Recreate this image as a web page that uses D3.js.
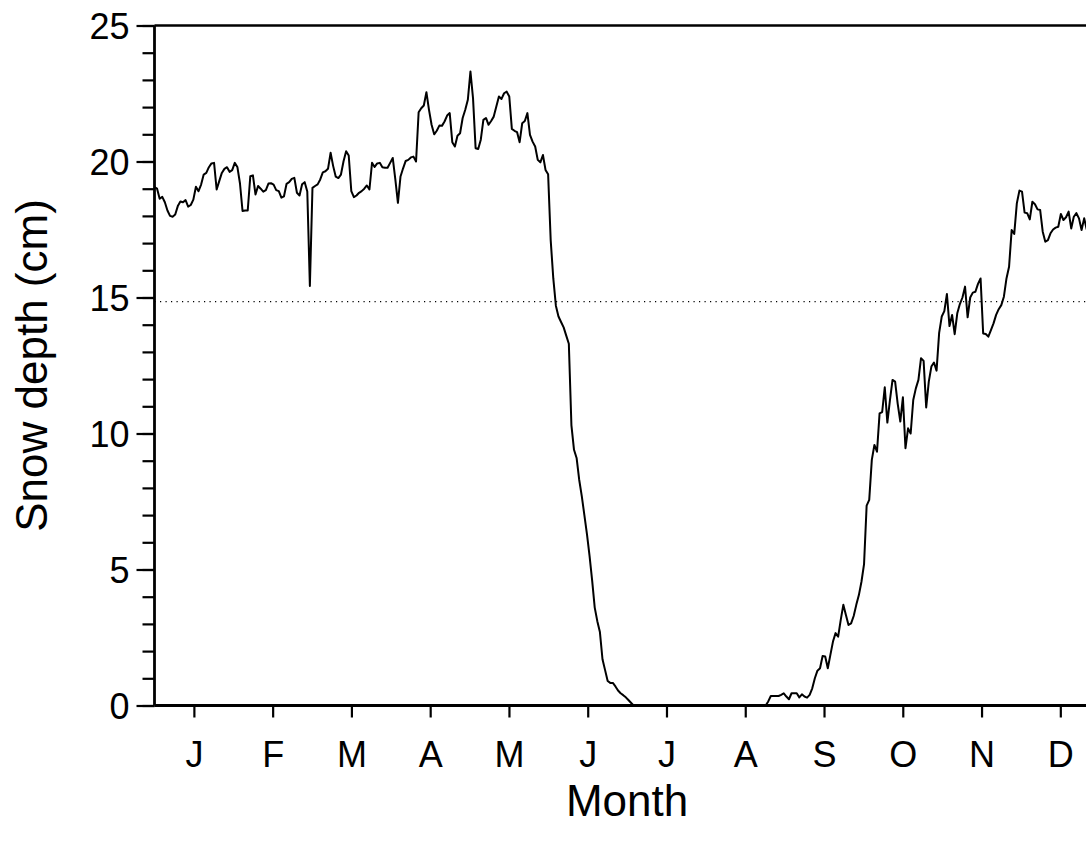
<!DOCTYPE html>
<html>
<head>
<meta charset="utf-8">
<script src="https://cdn.jsdelivr.net/npm/d3@7"></script>
<style>
  html, body { margin: 0; padding: 0; background: #fff; }
  svg { display: block; }
  text { font-family: "Liberation Sans", Arial, Helvetica, sans-serif; fill: #000; }
</style>
</head>
<body>
<svg id="chart" width="1086" height="844"></svg>
<script>
// Month initials shown under the axis (one per month, placed mid-month)
const monthLabels = ["J", "F", "M", "A", "M", "J", "J", "A", "S", "O", "N", "D"];

// Y axis ticks (cm)
const yMajorTicks = [0, 5, 10, 15, 20, 25];
const yMinorTicks = d3.range(0, 26, 1);

// Reference level drawn as a dotted horizontal line (cm)
const referenceDepth = [14.85];

// Daily snow depth (cm), day 0 = 1 January
const depthJanMar = [
  19.06, 19.00, 18.63, 18.70, 18.50, 18.20, 18.00, 17.97, 18.05, 18.36,
  18.53, 18.50, 18.58, 18.34, 18.40, 18.60, 19.07, 18.91, 19.15, 19.52,
  19.58, 19.79, 19.93, 19.95, 18.97, 19.28, 19.58, 19.73, 19.79, 19.62,
  19.68, 19.95, 19.80, 19.20, 18.18, 18.20, 18.20, 19.46, 19.49, 18.79,
  19.10, 19.00, 18.89, 18.95, 19.19, 19.20, 19.15, 18.95, 18.91, 18.67,
  18.72, 19.18, 19.24, 19.36, 19.40, 18.85, 18.75, 19.16, 19.24, 18.90,
  15.42, 19.03, 19.10, 19.16, 19.34, 19.60, 19.64, 19.73, 20.32, 19.83,
  19.44, 19.39, 19.52, 20.01, 20.38, 20.22, 18.91, 18.69, 18.75, 18.85,
  18.91, 19.00, 19.12, 18.97, 19.95, 19.80, 19.93, 19.95, 19.79, 19.77,
  19.77, 19.95, 20.13, 19.34, 18.48
];
const depthAprMay = [
  19.45, 19.75, 20.02, 20.06, 20.15, 20.18, 20.00, 21.81, 21.96, 22.06,
  22.55, 21.90, 21.35, 21.00, 21.13, 21.32, 21.31, 21.47, 21.69, 21.78,
  20.71, 20.55, 20.95, 21.04, 21.60, 21.90, 22.27, 23.31, 22.33, 20.49,
  20.46, 20.80, 21.53, 21.60, 21.35, 21.49, 21.65, 22.02, 22.39, 22.30,
  22.51, 22.57, 22.39, 21.20, 21.13, 21.08, 20.71, 21.41, 21.49, 21.78,
  20.98, 20.73, 20.55, 20.06, 19.97, 20.24, 19.69, 19.53
];
const depthMelt = [
  17.10, 15.70, 14.70, 14.30, 14.10, 13.90, 13.60, 13.30, 10.30, 9.40,
  9.10, 8.30, 7.70, 7.00, 6.30, 5.50, 4.60, 3.60, 3.10, 2.70,
  1.70, 1.30, 0.90, 0.83, 0.83, 0.70, 0.55, 0.45, 0.38, 0.30,
  0.20, 0.10, 0.00
];
const depthSnowFree = [
  0, 0, 0, 0, 0, 0, 0, 0, 0, 0,
  0, 0, 0, 0, 0, 0, 0, 0, 0, 0,
  0, 0, 0, 0, 0, 0, 0, 0, 0, 0,
  0, 0, 0, 0, 0, 0, 0, 0, 0, 0,
  0, 0, 0, 0, 0, 0, 0, 0, 0, 0,
  0
];
const depthAugOct = [
  0.15, 0.35, 0.35, 0.35, 0.35, 0.39, 0.45, 0.33, 0.23, 0.45,
  0.45, 0.45, 0.30, 0.41, 0.33, 0.29, 0.39, 0.63, 1.00, 1.28,
  1.37, 1.82, 1.80, 1.37, 1.86, 2.35, 2.66, 2.53, 3.15, 3.70,
  3.33, 2.96, 3.02, 3.29, 3.70, 4.06, 4.55, 5.20, 7.35, 7.56,
  9.03, 9.58, 9.33, 10.74, 10.79, 11.70, 10.40, 11.23, 11.97, 11.91,
  11.09, 10.44, 11.33, 9.46, 10.19, 10.00, 11.23, 11.66, 11.97, 12.77,
  12.67, 10.96, 11.91, 12.46, 12.61, 12.31, 13.70
];
const depthNovDec = [
  14.30, 14.50, 15.13, 13.95, 14.36, 13.65, 14.42, 14.76, 15.00, 15.40,
  14.27, 15.00, 15.18, 15.21, 15.50, 15.70, 13.68, 13.66, 13.56, 13.80,
  14.05, 14.36, 14.57, 14.72, 15.03, 15.70, 16.13, 17.48, 17.34, 18.46,
  18.93, 18.89, 18.12, 18.10, 17.87, 18.52, 18.43, 18.24, 18.22, 17.42,
  17.05, 17.11, 17.36, 17.50, 17.57, 17.60, 18.07, 17.85, 17.95, 18.16,
  17.54, 17.97, 18.10, 17.91, 17.48, 17.91, 17.50
];

const depth = [].concat(depthJanMar, depthAprMay, depthMelt, depthSnowFree, depthAugOct, depthNovDec);
const daysInYear = 365;

const svg = d3.select("#chart");

const plot = { left: 154.5, right: 1099.7, top: 25.5, bottom: 705.5 };

const x = d3.scaleLinear().domain([0, daysInYear]).range([plot.left, plot.right]);
const y = d3.scaleLinear().domain([0, 25]).range([plot.bottom, plot.top]);
const monthX = d3.scaleLinear().domain([0, 12]).range([plot.left, plot.right]);

// Dotted reference line
svg.selectAll("line.ref")
  .data(referenceDepth)
  .join("line")
  .attr("class", "ref")
  .attr("x1", plot.left).attr("x2", plot.right)
  .attr("y1", d => y(d)).attr("y2", d => y(d))
  .attr("stroke", "#000")
  .attr("stroke-width", 1.2)
  .attr("stroke-dasharray", "1.2,4.3");

// Snow depth series
const line = d3.line()
  .x((d, i) => x(i))
  .y(d => y(d));

svg.append("path")
  .datum(depth)
  .attr("fill", "none")
  .attr("stroke", "#000")
  .attr("stroke-width", 2)
  .attr("stroke-linejoin", "round")
  .attr("d", line);

// Frame: top and right edges
svg.append("line")
  .attr("x1", plot.left).attr("x2", plot.right)
  .attr("y1", plot.top).attr("y2", plot.top)
  .attr("stroke", "#000").attr("stroke-width", 2.4);
svg.append("line")
  .attr("x1", plot.right).attr("x2", plot.right)
  .attr("y1", plot.top).attr("y2", plot.bottom)
  .attr("stroke", "#000").attr("stroke-width", 2.4);

// Y axis: minor ticks every 1 cm, labelled majors every 5 cm
const yAxisMinor = d3.axisLeft(y).tickValues(yMinorTicks).tickSize(12).tickFormat("");
const yAxisMajor = d3.axisLeft(y).tickValues(yMajorTicks).tickSize(18).tickPadding(7).tickFormat(d3.format("d"));

const gMinor = svg.append("g").attr("transform", `translate(${plot.left},0)`).call(yAxisMinor);
gMinor.select(".domain").remove();
gMinor.selectAll(".tick line").attr("stroke", "#000").attr("stroke-width", 2.2);

const gY = svg.append("g").attr("transform", `translate(${plot.left},0)`).call(yAxisMajor);
gY.select(".domain").attr("stroke", "#000").attr("stroke-width", 2.8).attr("d", `M0,${plot.top}V${plot.bottom}`);
gY.selectAll(".tick line").attr("stroke", "#000").attr("stroke-width", 2.2);
gY.selectAll(".tick text")
  .attr("font-size", 36)
  .attr("dy", "0.36em")
  .style("font-family", "'Liberation Sans', Arial, sans-serif");

// X axis: month initials at mid-month
const monthCentres = monthLabels.map((_, i) => i + 0.5);
const xAxis = d3.axisBottom(monthX)
  .tickValues(monthCentres)
  .tickSize(12)
  .tickPadding(24)
  .tickFormat((d, i) => monthLabels[i]);

const gX = svg.append("g").attr("transform", `translate(0,${plot.bottom})`).call(xAxis);
gX.select(".domain").attr("stroke", "#000").attr("stroke-width", 2.8).attr("d", `M${plot.left},0H${plot.right}`);
gX.selectAll(".tick line").attr("stroke", "#000").attr("stroke-width", 2.2);
gX.selectAll(".tick text")
  .attr("font-size", 36)
  .attr("dy", "0.71em")
  .style("font-family", "'Liberation Sans', Arial, sans-serif");

// Axis titles
svg.append("text")
  .attr("x", (plot.left + plot.right) / 2)
  .attr("y", 816)
  .attr("text-anchor", "middle")
  .attr("font-size", 44)
  .text("Month");

svg.append("text")
  .attr("transform", `translate(47,${(plot.top + plot.bottom) / 2}) rotate(-90)`)
  .attr("text-anchor", "middle")
  .attr("font-size", 44)
  .text("Snow depth (cm)");
</script>
</body>
</html>
